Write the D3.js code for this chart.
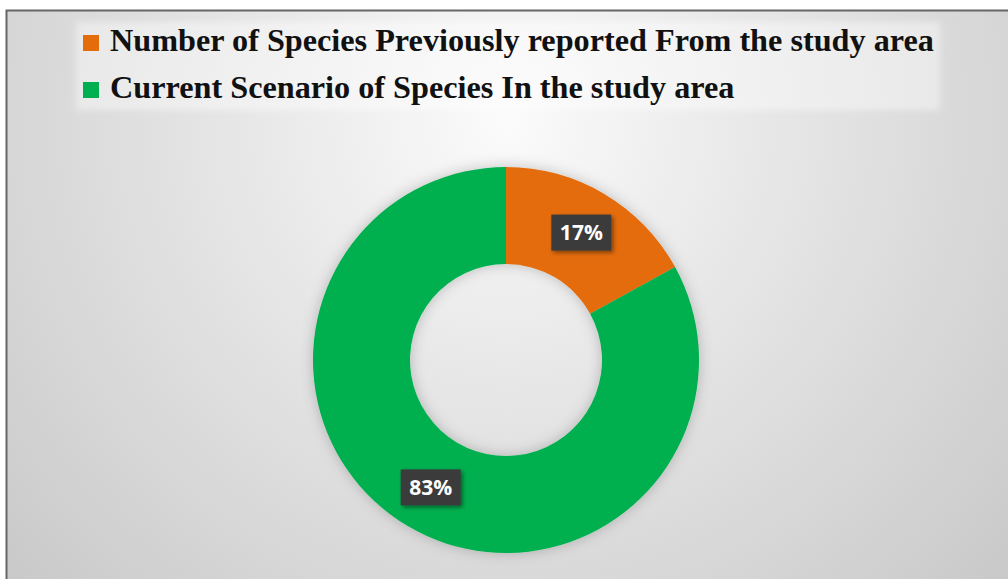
<!DOCTYPE html>
<html>
<head>
<meta charset="utf-8">
<script src="https://cdn.jsdelivr.net/npm/d3@7"></script>
<style>
  html, body { margin: 0; padding: 0; background: #fff; }
  svg { display: block; }
</style>
</head>
<body>
<svg id="donut-chart" width="1008" height="579"></svg>
<script>
const categories = [
  "Number of Species Previously reported From the study area",
  "Current Scenario of Species In the study area"
];
const shares = [17, 83];
const colors = ["#E46C0A", "#00B050"];

const width = 1008,
  height = 579,
  cx = 506,
  cy = 360,
  outerR = 193,
  innerR = 96,
  labelR = 148;

const svg = d3.select("#donut-chart");
const defs = svg.append("defs");

// chart area background
const bg = defs.append("radialGradient")
  .attr("id", "bg")
  .attr("gradientUnits", "userSpaceOnUse")
  .attr("cx", 506).attr("cy", 120).attr("r", 720)
  .attr("fx", 506).attr("fy", 120);
bg.append("stop").attr("offset", "0%").attr("stop-color", "#fbfbfb");
bg.append("stop").attr("offset", "35%").attr("stop-color", "#e8e8e8");
bg.append("stop").attr("offset", "100%").attr("stop-color", "#c6c6c6");

const blur = defs.append("filter").attr("id", "soft")
  .attr("x", "-10%").attr("y", "-30%").attr("width", "120%").attr("height", "160%");
blur.append("feGaussianBlur").attr("stdDeviation", 3);

const glow = defs.append("filter").attr("id", "glow")
  .attr("x", "-20%").attr("y", "-20%").attr("width", "140%").attr("height", "140%");
glow.append("feDropShadow")
  .attr("dx", 0).attr("dy", 0).attr("stdDeviation", 7)
  .attr("flood-color", "#000").attr("flood-opacity", 0.22);

const shadow = defs.append("filter").attr("id", "shadow")
  .attr("x", "-30%").attr("y", "-30%").attr("width", "160%").attr("height", "160%");
shadow.append("feDropShadow")
  .attr("dx", 2).attr("dy", 2).attr("stdDeviation", 2)
  .attr("flood-color", "#000").attr("flood-opacity", 0.45);

svg.append("rect")
  .attr("x", 6.5).attr("y", 10.5)
  .attr("width", width + 10).attr("height", height + 10)
  .attr("fill", "url(#bg)")
  .attr("stroke", "#666").attr("stroke-width", 2);

// legend
const legendX = 83, legendY = [35, 82], rectSize = 16;

svg.append("rect")
  .attr("x", 76).attr("y", 22)
  .attr("width", 864).attr("height", 88)
  .attr("fill", "#ffffff").attr("opacity", 0.4)
  .attr("filter", "url(#soft)");

const legend = svg.append("g").selectAll("g")
  .data(categories)
  .join("g")
  .attr("transform", (d, i) => `translate(${legendX},${legendY[i]})`);

legend.append("rect")
  .attr("width", rectSize).attr("height", rectSize)
  .attr("fill", (d, i) => colors[i]);

legend.append("text")
  .attr("x", 27)
  .attr("y", 16)
  .attr("font-family", "'Liberation Serif', 'DejaVu Serif', serif")
  .attr("font-weight", "bold")
  .attr("font-size", 100)
  .attr("fill", "#111")
  .text(d => d);

// fit the first legend line to its width in the picture
const w100 = legend.select("text").node().getComputedTextLength();
legend.selectAll("text").attr("font-size", 100 * 824 / w100);

// donut
const pie = d3.pie().sort(null).value(d => d);
const arcs = pie(shares);
const arc = d3.arc().innerRadius(innerR).outerRadius(outerR);
const labelArc = d3.arc().innerRadius(labelR).outerRadius(labelR);

const g = svg.append("g").attr("transform", `translate(${cx},${cy})`);

g.append("g")
  .attr("filter", "url(#glow)")
  .selectAll("path")
  .data(arcs)
  .join("path")
  .attr("d", arc)
  .attr("fill", (d, i) => colors[i]);

const labels = g.selectAll("g.lbl")
  .data(arcs)
  .join("g")
  .attr("class", "lbl")
  .attr("transform", d => `translate(${labelArc.centroid(d)})`);

labels.append("rect")
  .attr("x", -30).attr("y", -18)
  .attr("width", 60).attr("height", 36)
  .attr("fill", "#3b3b3b")
  .attr("filter", "url(#shadow)");

labels.append("text")
  .attr("text-anchor", "middle")
  .attr("dy", "0.36em")
  .attr("font-family", "'Open Sans', 'DejaVu Sans', sans-serif")
  .attr("font-weight", "bold")
  .attr("font-size", 21)
  .attr("fill", "#fff")
  .text(d => `${d.data}%`);
</script>
</body>
</html>
